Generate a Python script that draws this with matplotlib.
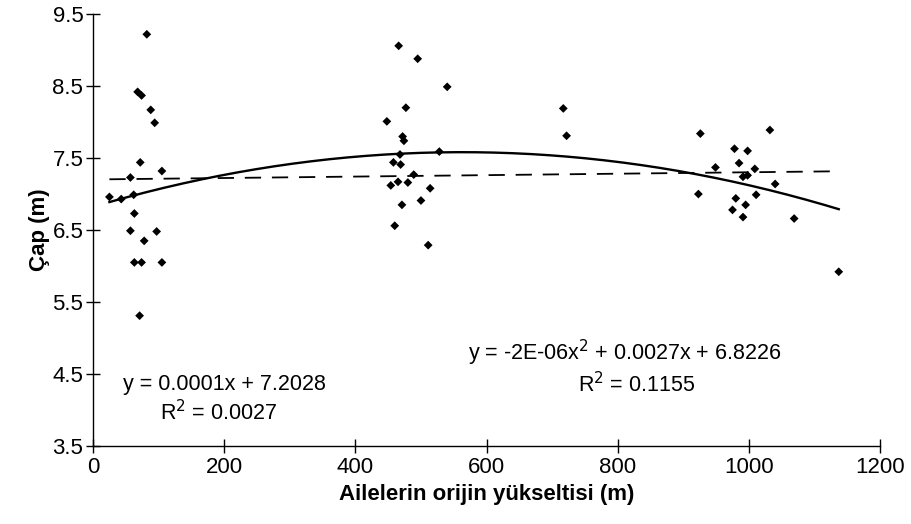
import numpy as np
import matplotlib
matplotlib.use('Agg')
import matplotlib.pyplot as plt

plt.rcParams['font.family'] = ['Liberation Sans', 'DejaVu Sans']

# Ailelerin orijin yukseltisi (m) ve cap (m) degerleri
x_alcak = [25, 43, 62, 57, 63, 57, 97, 78, 63, 74, 105, 71, 82, 68, 74, 88, 94, 72, 105]
y_alcak = [6.96, 6.93, 6.99, 7.23, 6.73, 6.49, 6.48, 6.35, 6.05, 6.05, 6.05, 5.31,
           9.22, 8.42, 8.37, 8.17, 7.99, 7.44, 7.32]

x_orta = [466, 495, 540, 477, 448, 474, 472, 468, 528, 458, 469, 489, 465, 454, 480,
          514, 500, 471, 460, 511, 717, 722]
y_orta = [9.06, 8.88, 8.49, 8.20, 8.01, 7.74, 7.80, 7.55, 7.59, 7.44, 7.41, 7.27, 7.17,
          7.12, 7.16, 7.08, 6.91, 6.85, 6.56, 6.29, 8.19, 7.81]

x_yuksek = [926, 1032, 978, 998, 985, 949, 1009, 991, 998, 1040, 923, 980, 1011, 995,
            975, 991, 1069, 1137]
y_yuksek = [7.84, 7.89, 7.63, 7.60, 7.43, 7.37, 7.35, 7.24, 7.26, 7.14, 7.00, 6.94,
            6.99, 6.85, 6.78, 6.68, 6.66, 5.92]

# Egilim cizgileri (grafikteki cizgilerden okunan katsayilar)
dogrusal_katsayi = [0.0001, 7.2028]
polinom_katsayi = [-2.4e-06, 0.0027, 6.8226]

x_tum = np.array(x_alcak + x_orta + x_yuksek)
y_tum = np.array(y_alcak + y_orta + y_yuksek)

fig = plt.figure(figsize=(9.12, 5.24), dpi=100)
ax = fig.add_axes([0.102, 0.149, 0.863, 0.824])

ax.scatter(x_tum, y_tum, marker='D', s=20, color='black', edgecolors='none', zorder=3)

xx = np.linspace(x_tum.min(), x_tum.max(), 200)
ax.plot(xx, np.polyval(polinom_katsayi, xx), color='black', linewidth=1.7, zorder=2)
ax.plot(xx, np.polyval(dogrusal_katsayi, xx), color='black', linewidth=1.3,
        linestyle=(0, (9, 6)), zorder=2)

ax.set_xlim(0, 1200)
ax.set_ylim(3.5, 9.5)
ax.set_xticks(np.arange(0, 1201, 200))
ax.set_yticks(np.arange(3.5, 9.6, 1.0))
ax.set_yticklabels(['3.5', '4.5', '5.5', '6.5', '7.5', '8.5', '9.5'])

for s in ['top', 'right']:
    ax.spines[s].set_visible(False)
ax.spines['left'].set_linewidth(1.0)
ax.spines['bottom'].set_linewidth(1.0)
ax.tick_params(axis='both', direction='inout', length=10, width=1.0,
               labelsize=16, colors='black')
ax.tick_params(axis='x', pad=3)
ax.tick_params(axis='y', pad=2)

ax.set_xlabel('Ailelerin orijin yükseltisi (m)', fontsize=16, fontweight='bold', labelpad=4)
ax.set_ylabel('Çap (m)', fontsize=16, fontweight='bold', labelpad=2)

ax.text(200, 4.35, 'y = 0.0001x + 7.2028', fontsize=15.5, va='center', ha='center')
ax.text(192, 3.97, 'R$^2$ = 0.0027', fontsize=15.5, va='center', ha='center')
ax.text(811, 4.79, 'y = -2E-06x$^2$ + 0.0027x + 6.8226', fontsize=15.5, va='center', ha='center')
ax.text(829, 4.35, 'R$^2$ = 0.1155', fontsize=15.5, va='center', ha='center')

fig.savefig('out.png', dpi=100)
plt.close(fig)
